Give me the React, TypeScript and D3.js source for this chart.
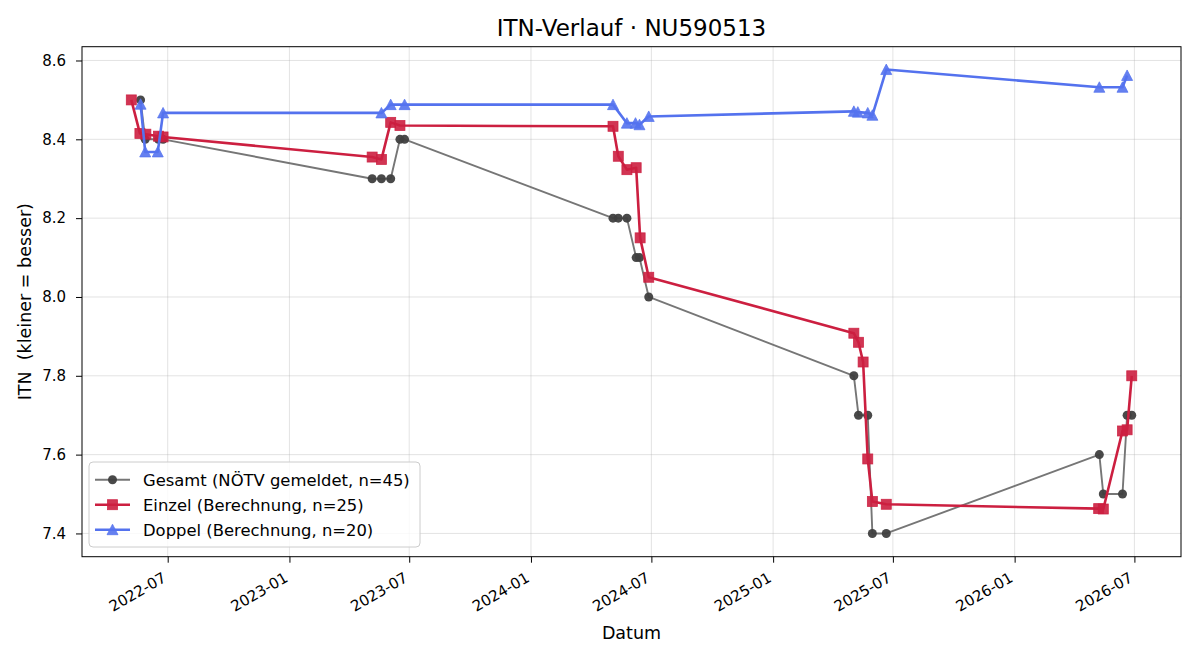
import { useEffect, useRef } from 'react';
import * as d3 from 'd3';

// Gesamt (NÖTV gemeldet)
const gesamtDates = [
  '2022-05-21', '2022-05-28', '2022-06-17', '2022-06-24',
  '2023-05-06', '2023-05-20', '2023-06-03', '2023-06-17', '2023-06-24',
  '2024-05-04', '2024-05-12', '2024-05-25', '2024-06-08', '2024-06-13', '2024-06-27',
  '2025-05-03', '2025-05-10', '2025-05-24', '2025-05-31', '2025-06-21',
  '2026-05-09', '2026-05-15', '2026-06-13', '2026-06-20', '2026-06-27',
];
const gesamtValues = [
  8.5, 8.4, 8.4, 8.4,
  8.3, 8.3, 8.3, 8.4, 8.4,
  8.2, 8.2, 8.2, 8.1, 8.1, 8.0,
  7.8, 7.7, 7.7, 7.4, 7.4,
  7.6, 7.5, 7.5, 7.7, 7.7,
];

// Einzel (Berechnung)
const einzelDates = [
  '2022-05-07', '2022-05-20', '2022-05-29', '2022-06-17', '2022-06-24',
  '2023-05-06', '2023-05-20', '2023-06-03', '2023-06-17',
  '2024-05-04', '2024-05-12', '2024-05-25', '2024-06-08', '2024-06-14', '2024-06-27',
  '2025-05-03', '2025-05-10', '2025-05-17', '2025-05-24', '2025-05-31', '2025-06-21',
  '2026-05-08', '2026-05-15', '2026-06-13', '2026-06-20', '2026-06-27',
];
const einzelValues = [
  8.5, 8.415, 8.413, 8.408, 8.406,
  8.355, 8.349, 8.443, 8.435,
  8.433, 8.357, 8.323, 8.328, 8.15, 8.05,
  7.908, 7.885, 7.835, 7.589, 7.481, 7.474,
  7.463, 7.462, 7.66, 7.663, 7.8,
];

// Doppel (Berechnung)
const doppelDates = [
  '2022-05-21', '2022-05-28', '2022-06-16', '2022-06-24',
  '2023-05-20', '2023-06-03', '2023-06-24',
  '2024-05-04', '2024-05-25', '2024-06-07', '2024-06-13', '2024-06-27',
  '2025-05-03', '2025-05-09', '2025-05-24', '2025-05-31', '2025-06-21',
  '2026-05-09', '2026-06-13', '2026-06-20',
];
const doppelValues = [
  8.489, 8.368, 8.368, 8.467,
  8.467, 8.488, 8.488,
  8.488, 8.441, 8.441, 8.437, 8.458,
  8.471, 8.469, 8.467, 8.461, 8.577,
  8.532, 8.532, 8.562,
];

const xTickLabels = ['2022-07', '2023-01', '2023-07', '2024-01', '2024-07', '2025-01', '2025-07', '2026-01', '2026-07'];
const yTicks = [7.4, 7.6, 7.8, 8.0, 8.2, 8.4, 8.6];
const legendLabels = [
  'Gesamt (NÖTV gemeldet, n=45)',
  'Einzel (Berechnung, n=25)',
  'Doppel (Berechnung, n=20)',
];

const FONT = 'DejaVu Sans, Verdana, sans-serif';
const GRAY_LINE = '#767676';
const GRAY_MARK = '#3f3f3f';
const RED = '#cc1f40';
const BLUE = '#5472ee';

export default function App() {
  const ref = useRef<SVGSVGElement>(null);

  useEffect(() => {
    const width = 1200;
    const height = 660;
    const margin = { top: 46.7, right: 19, bottom: 103.3, left: 82 };
    const innerWidth = width - margin.left - margin.right;
    const innerHeight = height - margin.top - margin.bottom;
    const parse = d3.timeParse('%Y-%m-%d');

    const svg = d3.select(ref.current);
    svg.selectAll('*').remove();
    svg.append('rect').attr('width', width).attr('height', height).attr('fill', '#fff');

    const g = svg.append('g').attr('transform', `translate(${margin.left}, ${margin.top})`);

    // x scale calibrated on the tick positions, then widened to the frame
    const tickDates = xTickLabels.map((s) => parse(s + '-01') as Date);
    const xCal = d3.scaleTime().domain([tickDates[0], tickDates[tickDates.length - 1]]).range([85.7, 1052.4]);
    const xScale = d3.scaleTime().domain([xCal.invert(0), xCal.invert(innerWidth)]).range([0, innerWidth]);
    const yScale = d3.scaleLinear().domain([7.341, 8.635]).range([innerHeight, 0]);

    // grid
    g.append('g')
      .selectAll('line')
      .data(yTicks)
      .join('line')
      .attr('x1', 0).attr('x2', innerWidth)
      .attr('y1', (d) => yScale(d)).attr('y2', (d) => yScale(d))
      .attr('stroke', '#b0b0b0').attr('stroke-opacity', 0.35).attr('stroke-width', 1);
    g.append('g')
      .selectAll('line')
      .data(tickDates)
      .join('line')
      .attr('x1', (d) => xScale(d)).attr('x2', (d) => xScale(d))
      .attr('y1', 0).attr('y2', innerHeight)
      .attr('stroke', '#b0b0b0').attr('stroke-opacity', 0.35).attr('stroke-width', 1);

    const series = [
      { dates: gesamtDates, values: gesamtValues, line: GRAY_LINE, mark: GRAY_MARK, lw: 1.9, shape: 'circle', op: 0.95 },
      { dates: einzelDates, values: einzelValues, line: RED, mark: RED, lw: 2.6, shape: 'square', op: 0.9 },
      { dates: doppelDates, values: doppelValues, line: BLUE, mark: BLUE, lw: 2.6, shape: 'triangle', op: 0.9 },
    ];

    const line = d3.line<[Date, number]>().x((d) => xScale(d[0])).y((d) => yScale(d[1]));

    const drawMarker = (sel: any, shape: string, color: string, op: number) => {
      if (shape === 'circle') {
        sel.append('circle').attr('r', 4.5).attr('fill', color).attr('fill-opacity', op);
      } else if (shape === 'square') {
        sel.append('rect').attr('x', -5).attr('y', -5).attr('width', 10).attr('height', 10)
          .attr('fill', color).attr('fill-opacity', op)
          .attr('stroke', color).attr('stroke-opacity', op).attr('stroke-width', 0.8);
      } else {
        sel.append('path').attr('d', 'M0,-5.5L5.5,5L-5.5,5Z')
          .attr('fill', color).attr('fill-opacity', op)
          .attr('stroke', color).attr('stroke-opacity', op).attr('stroke-width', 0.8);
      }
    };

    series.forEach((s) => {
      const pts: [Date, number][] = s.dates.map((d, i) => [parse(d) as Date, s.values[i]]);
      g.append('path')
        .datum(pts)
        .attr('d', line)
        .attr('fill', 'none')
        .attr('stroke', s.line)
        .attr('stroke-width', s.lw)
        .attr('stroke-linejoin', 'round');
      g.append('g')
        .selectAll('g')
        .data(pts)
        .join('g')
        .attr('transform', (d) => `translate(${xScale(d[0])}, ${yScale(d[1])})`)
        .each(function () {
          drawMarker(d3.select(this), s.shape, s.mark, s.op);
        });
    });

    // frame
    g.append('rect')
      .attr('width', innerWidth).attr('height', innerHeight)
      .attr('fill', 'none').attr('stroke', '#000').attr('stroke-width', 1);

    // x axis
    const xAxis = d3.axisBottom(xScale)
      .tickValues(tickDates)
      .tickFormat((d, i) => xTickLabels[i])
      .tickSize(6);
    const xg = g.append('g').attr('transform', `translate(0, ${innerHeight})`).call(xAxis);
    xg.select('.domain').remove();
    xg.selectAll('text')
      .attr('font-family', FONT).attr('font-size', 15).attr('fill', '#000')
      .attr('text-anchor', 'end')
      .attr('y', 0).attr('dy', null)
      .attr('transform', 'translate(-1, 24) rotate(-30)');

    // y axis
    const yAxis = d3.axisLeft(yScale).tickValues(yTicks).tickFormat(d3.format('.1f')).tickSize(6).tickPadding(10);
    const yg = g.append('g').call(yAxis);
    yg.select('.domain').remove();
    yg.selectAll('text').attr('font-family', FONT).attr('font-size', 15).attr('fill', '#000');

    // labels
    svg.append('text')
      .attr('x', margin.left + innerWidth / 2).attr('y', 36)
      .attr('text-anchor', 'middle')
      .attr('font-family', FONT).attr('font-size', 23)
      .text('ITN-Verlauf · NU590513');
    svg.append('text')
      .attr('x', margin.left + innerWidth / 2).attr('y', 639)
      .attr('text-anchor', 'middle')
      .attr('font-family', FONT).attr('font-size', 17.5)
      .text('Datum');
    svg.append('text')
      .attr('transform', `translate(31, ${margin.top + innerHeight / 2}) rotate(-90)`)
      .attr('text-anchor', 'middle')
      .attr('font-family', FONT).attr('font-size', 17.5)
      .style('white-space', 'pre')
      .text('ITN  (kleiner = besser)');

    // legend
    const lg = svg.append('g').attr('transform', 'translate(89, 462)');
    lg.append('rect')
      .attr('width', 331).attr('height', 85).attr('rx', 4)
      .attr('fill', '#fff').attr('fill-opacity', 0.8)
      .attr('stroke', '#cccccc').attr('stroke-width', 1);
    series.forEach((s, i) => {
      const row = lg.append('g').attr('transform', `translate(0, ${17.7 + i * 25})`);
      row.append('line').attr('x1', 6).attr('x2', 41).attr('stroke', s.line).attr('stroke-width', s.lw);
      drawMarker(row.append('g').attr('transform', 'translate(23.5, 0)'), s.shape, s.mark, s.op);
      row.append('text')
        .attr('x', 54).attr('dy', '0.36em')
        .attr('font-family', FONT).attr('font-size', 16.4)
        .text(legendLabels[i]);
    });
  }, []);

  return <svg ref={ref} width={1200} height={660} style={{ position: 'absolute', left: 0, top: 0 }} />;
}
